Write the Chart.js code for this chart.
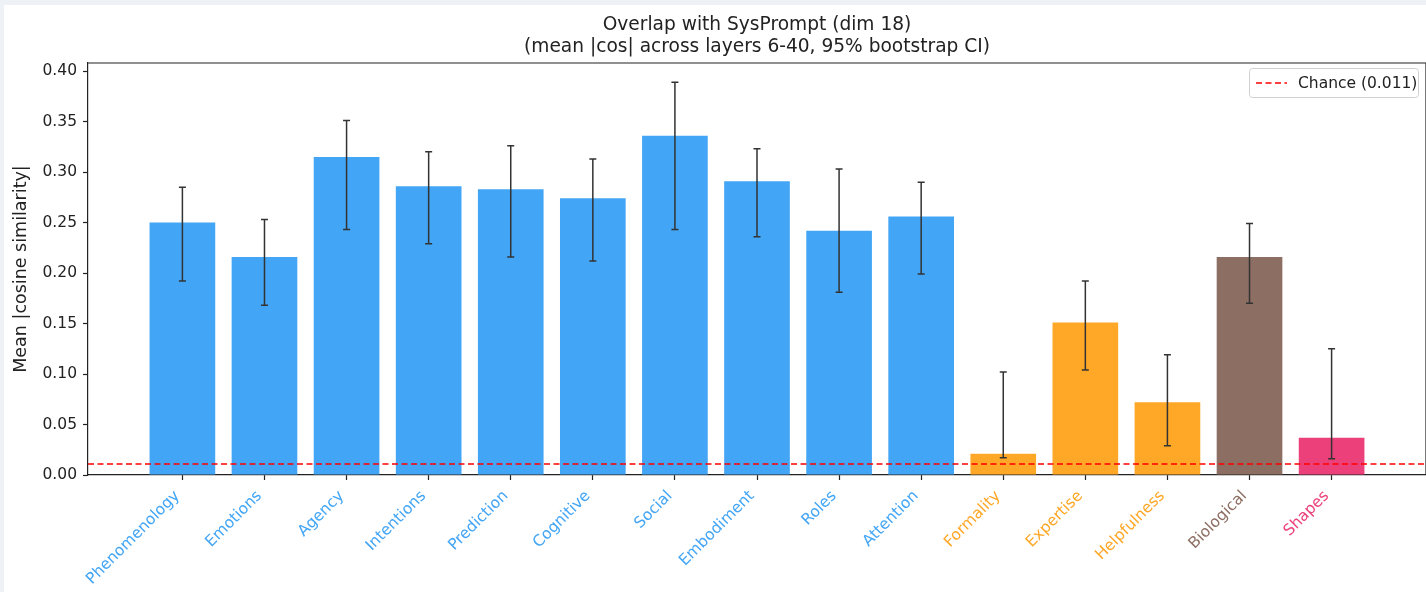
<!DOCTYPE html>
<html>
<head>
<meta charset="utf-8">
<script src="https://cdn.jsdelivr.net/npm/chart.js@4.4.1/dist/chart.umd.min.js"></script>
<style>
    html, body { margin: 0; padding: 0; background: #eef2f7; }
    #wrap { position: absolute; left: 4px; top: 5px; width: 1422px; height: 587px; background: #fff; }
</style>
</head>
<body>
<div id="wrap"><canvas id="overlap" width="1422" height="587"></canvas></div>
<script>
const categories = ['Phenomenology', 'Emotions', 'Agency', 'Intentions', 'Prediction', 'Cognitive', 'Social',
    'Embodiment', 'Roles', 'Attention', 'Formality', 'Expertise', 'Helpfulness', 'Biological', 'Shapes'];
const means  = [0.250, 0.216, 0.315, 0.286, 0.283, 0.274, 0.336, 0.291, 0.242, 0.256, 0.021, 0.151, 0.072, 0.216, 0.037];
const ciLow  = [0.192, 0.168, 0.243, 0.229, 0.216, 0.212, 0.243, 0.236, 0.181, 0.199, 0.017, 0.104, 0.029, 0.170, 0.016];
const ciHigh = [0.285, 0.253, 0.351, 0.320, 0.326, 0.313, 0.389, 0.323, 0.303, 0.290, 0.102, 0.192, 0.119, 0.249, 0.125];
const blue = '#42A5F5', orange = '#FFA726', brown = '#8D6E63', pink = '#EC407A';
const barColors = [blue, blue, blue, blue, blue, blue, blue, blue, blue, blue, orange, orange, orange, brown, pink];
const chance = 0.011;
const yTicks = [0, 0.05, 0.10, 0.15, 0.20, 0.25, 0.30, 0.35, 0.40];
const xMin = -1.15, xMax = 15.15;

const FONT = 'DejaVu Sans';
const INK = '#222';

// error bars, top/right spines, title and legend box
const extras = {
    id: 'extras',
    afterDatasetsDraw(chart) {
        const { ctx, scales: { x, y } } = chart;
        ctx.save();
        ctx.strokeStyle = '#333';
        ctx.lineWidth = 1.5;
        means.forEach((m, i) => {
            const px = x.getPixelForValue(i);
            const top = y.getPixelForValue(ciHigh[i]);
            const bot = y.getPixelForValue(ciLow[i]);
            ctx.beginPath();
            ctx.moveTo(px, top); ctx.lineTo(px, bot);
            ctx.moveTo(px - 3.5, top); ctx.lineTo(px + 3.5, top);
            ctx.moveTo(px - 3.5, bot); ctx.lineTo(px + 3.5, bot);
            ctx.stroke();
        });
        ctx.restore();
    },
    afterDraw(chart) {
        const { ctx, chartArea: a } = chart;
        ctx.save();
        ctx.strokeStyle = INK;
        ctx.lineWidth = 1.2;
        ctx.beginPath();
        ctx.moveTo(a.left, a.top); ctx.lineTo(a.right, a.top); ctx.lineTo(a.right, a.bottom);
        ctx.stroke();

        const cx = (a.left + a.right) / 2;
        ctx.fillStyle = INK;
        ctx.font = '18.6px "' + FONT + '"';
        ctx.textAlign = 'center';
        ctx.textBaseline = 'middle';
        ctx.fillText('Overlap with SysPrompt (dim 18)', cx, 20);
        ctx.fillText('(mean |cos| across layers 6-40, 95% bootstrap CI)', cx, 42);

        // legend
        const ds = chart.data.datasets[1];
        const bx = a.right - 177, by = a.top + 5, bw = 169, bh = 29;
        ctx.fillStyle = 'rgba(255,255,255,0.8)';
        ctx.strokeStyle = '#d0d0d0';
        ctx.lineWidth = 1;
        ctx.beginPath();
        ctx.roundRect(bx + 0.5, by + 0.5, bw, bh, 3);
        ctx.fill();
        ctx.stroke();
        ctx.strokeStyle = ds.borderColor;
        ctx.lineWidth = ds.borderWidth;
        ctx.setLineDash(ds.borderDash);
        ctx.beginPath();
        ctx.moveTo(bx + 7, by + bh / 2 + 0.5); ctx.lineTo(bx + 38, by + bh / 2 + 0.5);
        ctx.stroke();
        ctx.setLineDash([]);
        ctx.fillStyle = INK;
        ctx.font = '15.5px "' + FONT + '"';
        ctx.textAlign = 'left';
        ctx.fillText(ds.label, bx + 49, by + bh / 2 + 1);
        ctx.restore();
    }
};

new Chart(document.getElementById('overlap'), {
    type: 'bar',
    data: {
        datasets: [{
            label: 'Mean |cos|',
            data: categories.map((c, i) => ({ x: i, y: means[i] })),
            backgroundColor: barColors,
            borderWidth: 0,
            barPercentage: 0.8,
            categoryPercentage: 1.0,
            order: 1
        }, {
            type: 'line',
            label: 'Chance (' + chance + ')',
            data: [{ x: xMin, y: chance }, { x: xMax, y: chance }],
            borderColor: '#ff0000',
            borderWidth: 1.5,
            borderDash: [6, 3.5],
            pointRadius: 0,
            order: 0
        }]
    },
    options: {
        responsive: false,
        animation: false,
        layout: { padding: { top: 58, right: 0, left: 0, bottom: 0 } },
        plugins: {
            legend: { display: false },
            tooltip: { enabled: false },
            title: { display: false }
        },
        scales: {
            x: {
                type: 'linear',
                min: xMin,
                max: xMax,
                offset: false,
                grid: { display: true, drawOnChartArea: false, offset: false, tickLength: 5, color: INK, tickWidth: 1.2 },
                border: { color: INK, width: 1.2 },
                afterBuildTicks: (axis) => { axis.ticks = categories.map((c, i) => ({ value: i })); },
                afterFit: (axis) => { axis.height = 117; axis.paddingLeft = 0; axis.paddingRight = 0; },
                ticks: {
                    autoSkip: false,
                    minRotation: 45,
                    maxRotation: 45,
                    padding: 7,
                    labelOffset: -5,
                    font: { family: FONT, size: 15.5 },
                    color: (ctx) => barColors[ctx.index],
                    callback: (v) => categories[v]
                }
            },
            y: {
                min: 0,
                max: 0.408,
                grid: { display: true, drawOnChartArea: false, tickLength: 5, color: INK, tickWidth: 1.2 },
                border: { color: INK, width: 1.2 },
                afterBuildTicks: (axis) => { axis.ticks = yTicks.map(v => ({ value: v })); },
                afterFit: (axis) => { axis.width = 84; },
                title: {
                    display: true,
                    text: 'Mean |cosine similarity|',
                    font: { family: FONT, size: 17.5 },
                    color: INK,
                    padding: { top: 7, bottom: 0 }
                },
                ticks: {
                    padding: 6,
                    font: { family: FONT, size: 15.5 },
                    color: INK,
                    callback: (v) => v.toFixed(2)
                }
            }
        }
    },
    plugins: [extras]
});
</script>
</body>
</html>
